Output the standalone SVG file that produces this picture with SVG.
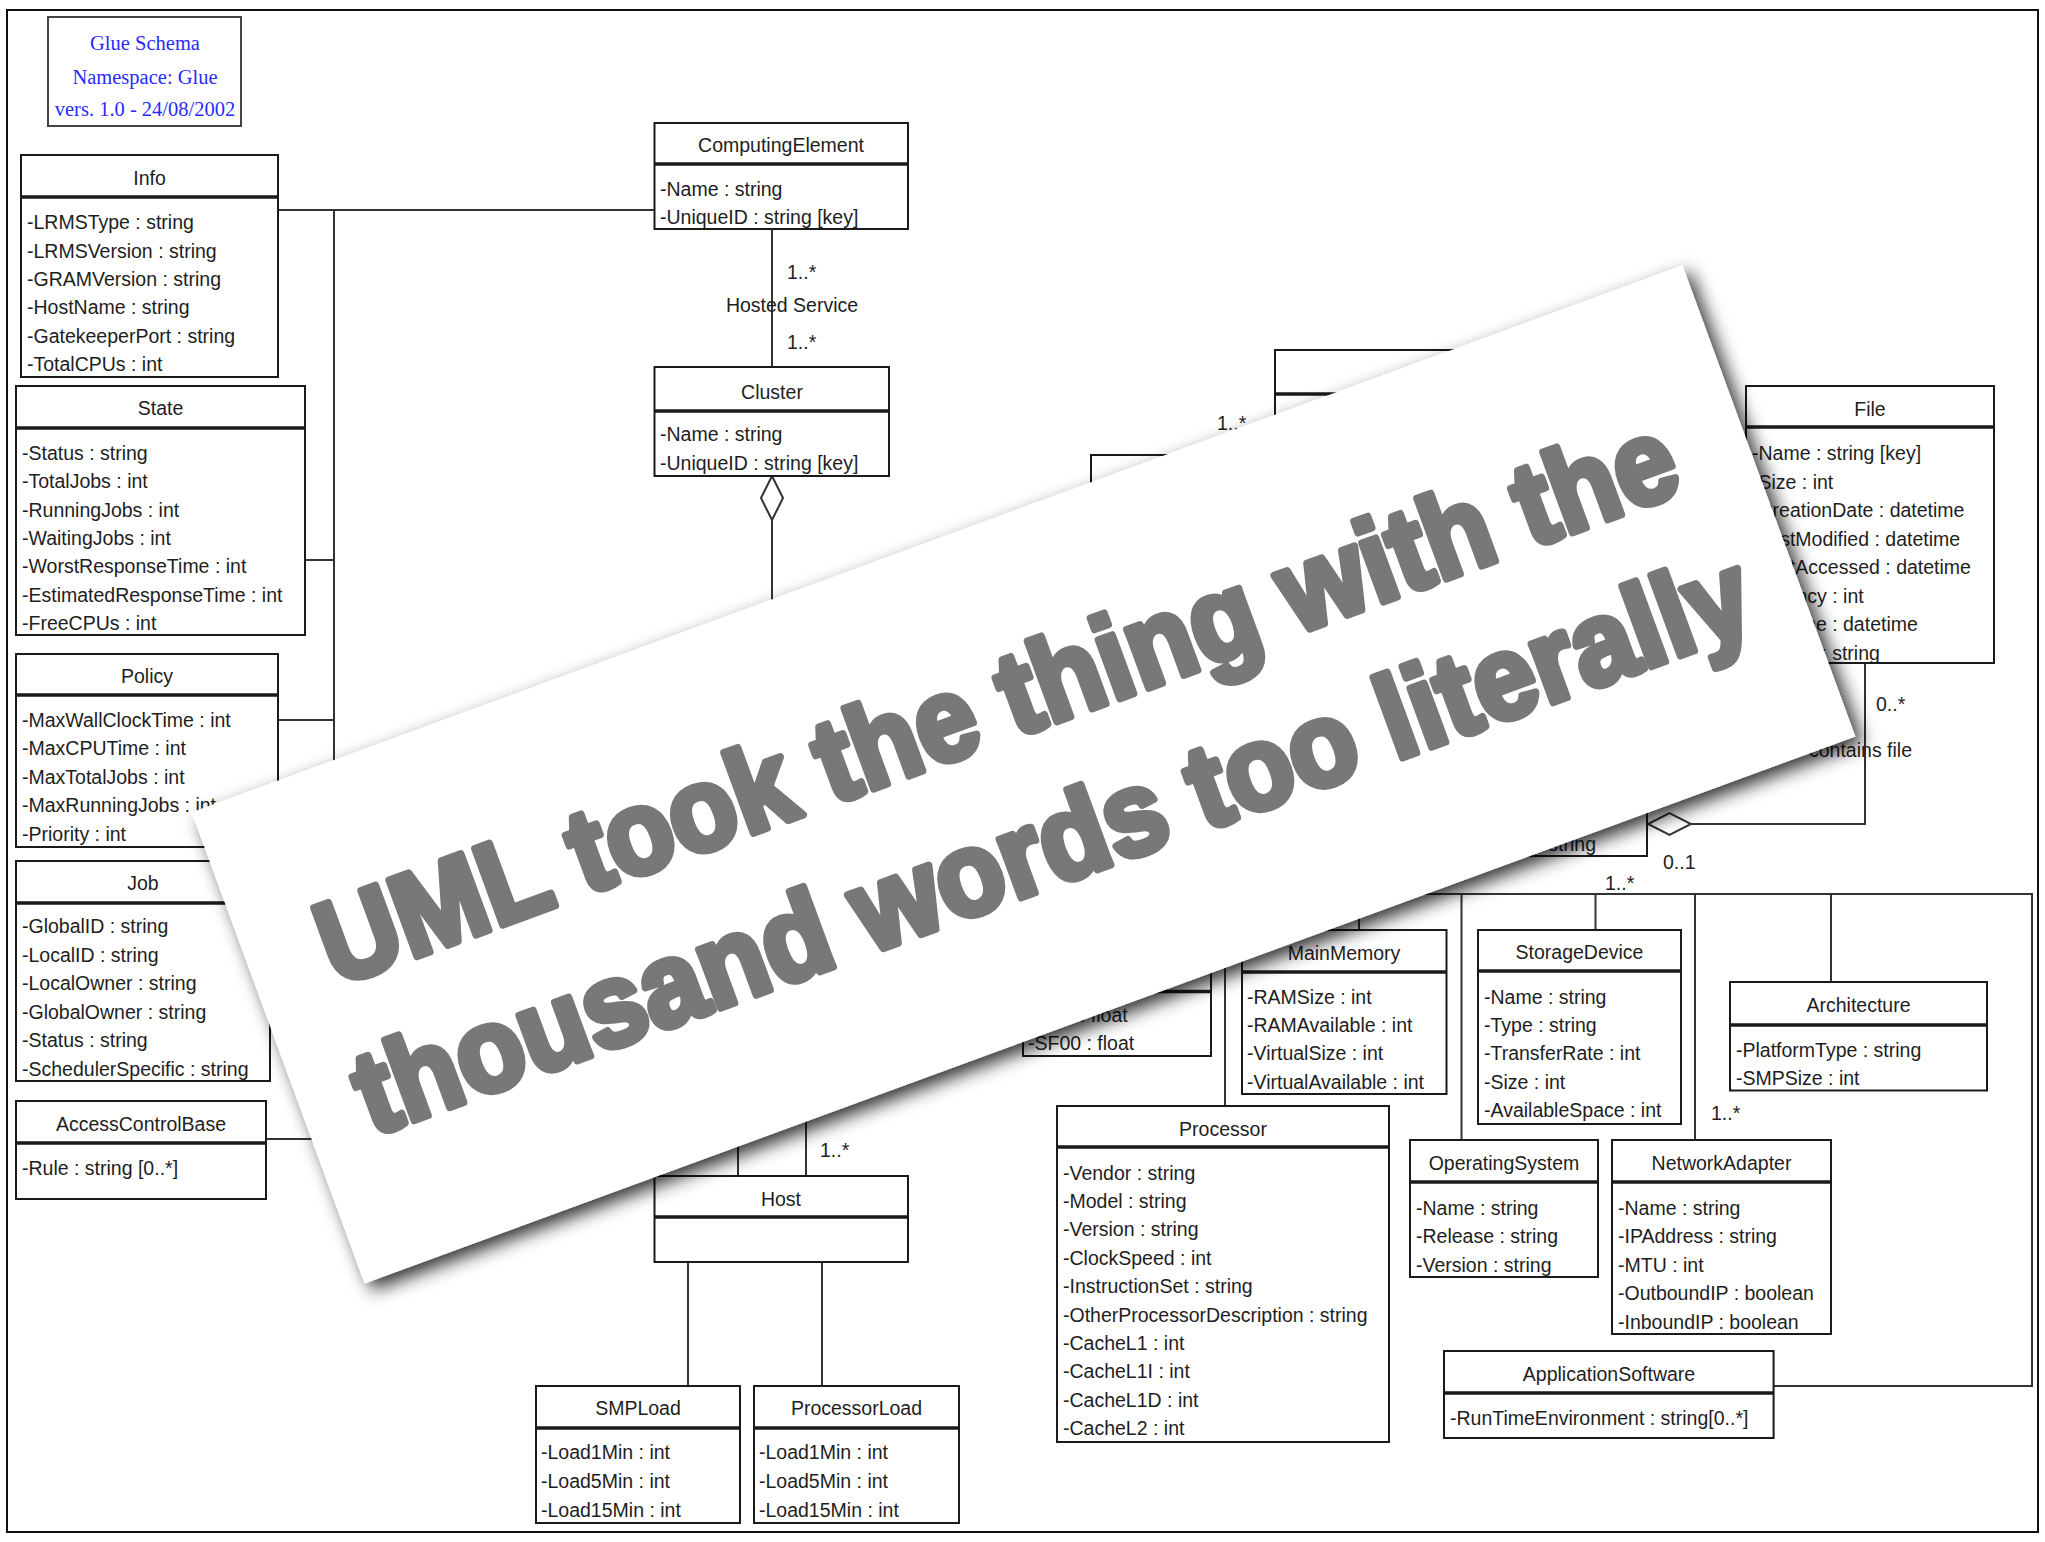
<svg xmlns="http://www.w3.org/2000/svg" width="2045" height="1542" viewBox="0 0 2045 1542">
<defs>
<style>
.box{fill:#fff;stroke:#1a1a1a;stroke-width:2}
.sep{stroke:#1a1a1a;stroke-width:3.5}
.t{font-family:"Liberation Sans",Arial,sans-serif;font-size:19.5px;fill:#1e1e1e}
.c{text-anchor:middle}
.e{text-anchor:end}
.conn{stroke:#333;stroke-width:2;fill:none}
.dia{fill:#fff;stroke:#333;stroke-width:2}
.blue{font-family:"Liberation Serif","Times New Roman",serif;font-size:20.5px;fill:#2a2aff;text-anchor:middle}
.big{font-family:"Liberation Sans",Arial,sans-serif;font-weight:bold;font-size:118px;fill:#787878;stroke:#787878;stroke-width:7.5;stroke-linejoin:round}
</style>
<filter id="shadow" x="-10%" y="-25%" width="120%" height="150%">
<feGaussianBlur in="SourceAlpha" stdDeviation="9"/>
<feOffset dx="5" dy="9" result="b"/>
<feFlood flood-color="#000" flood-opacity="0.8"/>
<feComposite in2="b" operator="in"/>
<feMerge><feMergeNode/><feMergeNode in="SourceGraphic"/></feMerge>
</filter>
</defs>
<rect x="0" y="0" width="2045" height="1542" fill="#fff"/>
<rect x="7" y="10" width="2031" height="1522" fill="#fff" stroke="#111" stroke-width="2"/>

<g id="connectors">
<path class="conn" d="M278 210H654.5M334 210V1139M304.5 560H334M278 720H334M266 1139H334"/>
<path class="conn" d="M772 229V367M772 520V640"/>
<path class="conn" d="M738 1100V1176M806 1080V1176M688 1262V1386M822 1262V1386"/>
<path class="conn" d="M1225 894H2032V1386H1773.6M1225 894V1106M1359 894V930M1461.5 894V1140M1595.5 894V930M1695 894V1140M1831 894V982"/>
<path class="conn" d="M1691 824H1865V663"/>
<polygon class="dia" points="772,476 783,498 772,520 761,498"/>
<polygon class="dia" points="1648,824 1669.5,813 1691,824 1669.5,835"/>
<text class="t" x="787" y="279">1..*</text>
<text class="t c" x="792" y="312">Hosted Service</text>
<text class="t" x="787" y="349">1..*</text>
<text class="t" x="1217" y="430">1..*</text>
<text class="t" x="1876" y="711">0..*</text>
<text class="t e" x="1912" y="757">contains file</text>
<text class="t" x="1663" y="869">0..1</text>
<text class="t" x="1605" y="890">1..*</text>
<text class="t" x="820" y="1157">1..*</text>
<text class="t" x="1711" y="1120">1..*</text>
</g>

<g id="title">
<rect x="48" y="17" width="193" height="109" fill="#fff" stroke="#444" stroke-width="2"/>
<text class="blue" x="145" y="50">Glue Schema</text>
<text class="blue" x="145" y="84">Namespace: Glue</text>
<text class="blue" x="145" y="116">vers. 1.0 - 24/08/2002</text>
</g>

<g id="info">
<rect class="box" x="21" y="155" width="257" height="222"/>
<line class="sep" x1="21" y1="197" x2="278" y2="197"/>
<text class="t c" x="149.5" y="185">Info</text>
<text class="t" x="27" y="229">-LRMSType : string</text>
<text class="t" x="27" y="257.5">-LRMSVersion : string</text>
<text class="t" x="27" y="286">-GRAMVersion : string</text>
<text class="t" x="27" y="314">-HostName : string</text>
<text class="t" x="27" y="342.5">-GatekeeperPort : string</text>
<text class="t" x="27" y="371">-TotalCPUs : int</text>
</g>

<g id="state">
<rect class="box" x="16" y="386" width="289" height="249"/>
<line class="sep" x1="16" y1="428" x2="305" y2="428"/>
<text class="t c" x="160.5" y="415">State</text>
<text class="t" x="22" y="460">-Status : string</text>
<text class="t" x="22" y="488.3">-TotalJobs : int</text>
<text class="t" x="22" y="516.6">-RunningJobs : int</text>
<text class="t" x="22" y="545">-WaitingJobs : int</text>
<text class="t" x="22" y="573.2">-WorstResponseTime : int</text>
<text class="t" x="22" y="601.5">-EstimatedResponseTime : int</text>
<text class="t" x="22" y="630">-FreeCPUs : int</text>
</g>

<g id="policy">
<rect class="box" x="16" y="654" width="262" height="193"/>
<line class="sep" x1="16" y1="695" x2="278" y2="695"/>
<text class="t c" x="147" y="683">Policy</text>
<text class="t" x="22" y="727">-MaxWallClockTime : int</text>
<text class="t" x="22" y="755.4">-MaxCPUTime : int</text>
<text class="t" x="22" y="783.8">-MaxTotalJobs : int</text>
<text class="t" x="22" y="812.2">-MaxRunningJobs : int</text>
<text class="t" x="22" y="840.6">-Priority : int</text>
</g>

<g id="job">
<rect class="box" x="16" y="861" width="254" height="220"/>
<line class="sep" x1="16" y1="903" x2="270" y2="903"/>
<text class="t c" x="143" y="890">Job</text>
<text class="t" x="22" y="933">-GlobalID : string</text>
<text class="t" x="22" y="961.6">-LocalID : string</text>
<text class="t" x="22" y="990.2">-LocalOwner : string</text>
<text class="t" x="22" y="1018.8">-GlobalOwner : string</text>
<text class="t" x="22" y="1047.4">-Status : string</text>
<text class="t" x="22" y="1076">-SchedulerSpecific : string</text>
</g>

<g id="accesscontrolbase">
<rect class="box" x="16" y="1101" width="250" height="98"/>
<line class="sep" x1="16" y1="1143" x2="266" y2="1143"/>
<text class="t c" x="141" y="1131">AccessControlBase</text>
<text class="t" x="22" y="1175">-Rule : string [0..*]</text>
</g>

<g id="computingelement">
<rect class="box" x="654.5" y="123" width="253.5" height="106"/>
<line class="sep" x1="654.5" y1="164" x2="908" y2="164"/>
<text class="t c" x="781" y="152">ComputingElement</text>
<text class="t" x="660" y="196">-Name : string</text>
<text class="t" x="660" y="224">-UniqueID : string [key]</text>
</g>

<g id="cluster">
<rect class="box" x="654.5" y="367" width="234.5" height="109"/>
<line class="sep" x1="654.5" y1="411" x2="889" y2="411"/>
<text class="t c" x="772" y="399">Cluster</text>
<text class="t" x="660" y="441">-Name : string</text>
<text class="t" x="660" y="470">-UniqueID : string [key]</text>
</g>

<g id="box-a">
<rect class="box" x="1275" y="350" width="250" height="200"/>
<line class="sep" x1="1275" y1="394" x2="1525" y2="394"/>
</g>
<g id="box-b">
<rect class="box" x="1091" y="455" width="220" height="160"/>
</g>
<g id="box-c">
<rect class="box" x="1450" y="700" width="197" height="156"/>
<text class="t e" x="1596" y="851">string</text>
</g>

<g id="file">
<rect class="box" x="1746" y="386" width="248" height="277"/>
<line class="sep" x1="1746" y1="427" x2="1994" y2="427"/>
<text class="t c" x="1870" y="416">File</text>
<text class="t" x="1752" y="460">-Name : string [key]</text>
<text class="t" x="1752" y="488.5">-Size : int</text>
<text class="t" x="1752" y="517">-CreationDate : datetime</text>
<text class="t" x="1752" y="545.5">-LastModified : datetime</text>
<text class="t" x="1752" y="574">-LastAccessed : datetime</text>
<text class="t" x="1752" y="602.5">-Latency : int</text>
<text class="t" x="1752" y="631">-Lifetime : datetime</text>
<text class="t" x="1752" y="659.5">-Owner : string</text>
</g>

<g id="benchmark">
<rect class="box" x="1023" y="950" width="188" height="106"/>
<line class="sep" x1="1023" y1="991.5" x2="1211" y2="991.5"/>
<text class="t" x="1028" y="1021.6">-SI00 : float</text>
<text class="t" x="1028" y="1050">-SF00 : float</text>
</g>

<g id="host">
<rect class="box" x="654.5" y="1176" width="253.5" height="86"/>
<line class="sep" x1="654.5" y1="1217" x2="908" y2="1217"/>
<text class="t c" x="781" y="1206">Host</text>
</g>

<g id="smpload">
<rect class="box" x="536" y="1386" width="204" height="137"/>
<line class="sep" x1="536" y1="1428" x2="740" y2="1428"/>
<text class="t c" x="638" y="1415">SMPLoad</text>
<text class="t" x="541" y="1459">-Load1Min : int</text>
<text class="t" x="541" y="1488">-Load5Min : int</text>
<text class="t" x="541" y="1517">-Load15Min : int</text>
</g>

<g id="processorload">
<rect class="box" x="754" y="1386" width="205" height="137"/>
<line class="sep" x1="754" y1="1428" x2="959" y2="1428"/>
<text class="t c" x="856.5" y="1415">ProcessorLoad</text>
<text class="t" x="759" y="1459">-Load1Min : int</text>
<text class="t" x="759" y="1488">-Load5Min : int</text>
<text class="t" x="759" y="1517">-Load15Min : int</text>
</g>

<g id="processor">
<rect class="box" x="1057" y="1106" width="332" height="336"/>
<line class="sep" x1="1057" y1="1147" x2="1389" y2="1147"/>
<text class="t c" x="1223" y="1136">Processor</text>
<text class="t" x="1063" y="1179.6">-Vendor : string</text>
<text class="t" x="1063" y="1208">-Model : string</text>
<text class="t" x="1063" y="1236.4">-Version : string</text>
<text class="t" x="1063" y="1264.8">-ClockSpeed : int</text>
<text class="t" x="1063" y="1293.2">-InstructionSet : string</text>
<text class="t" x="1063" y="1321.6">-OtherProcessorDescription : string</text>
<text class="t" x="1063" y="1350">-CacheL1 : int</text>
<text class="t" x="1063" y="1378.4">-CacheL1I : int</text>
<text class="t" x="1063" y="1406.8">-CacheL1D : int</text>
<text class="t" x="1063" y="1435.2">-CacheL2 : int</text>
</g>

<g id="mainmemory">
<rect class="box" x="1242" y="930" width="204.5" height="164"/>
<line class="sep" x1="1242" y1="972" x2="1446.5" y2="972"/>
<text class="t c" x="1344" y="960">MainMemory</text>
<text class="t" x="1247" y="1003.6">-RAMSize : int</text>
<text class="t" x="1247" y="1032">-RAMAvailable : int</text>
<text class="t" x="1247" y="1060.4">-VirtualSize : int</text>
<text class="t" x="1247" y="1088.8">-VirtualAvailable : int</text>
</g>

<g id="storagedevice">
<rect class="box" x="1478" y="930" width="203" height="194"/>
<line class="sep" x1="1478" y1="971" x2="1681" y2="971"/>
<text class="t c" x="1579.5" y="959">StorageDevice</text>
<text class="t" x="1484" y="1003.5">-Name : string</text>
<text class="t" x="1484" y="1032">-Type : string</text>
<text class="t" x="1484" y="1060.4">-TransferRate : int</text>
<text class="t" x="1484" y="1088.8">-Size : int</text>
<text class="t" x="1484" y="1117.2">-AvailableSpace : int</text>
</g>

<g id="architecture">
<rect class="box" x="1730" y="982" width="257" height="108.5"/>
<line class="sep" x1="1730" y1="1025" x2="1987" y2="1025"/>
<text class="t c" x="1858.5" y="1012">Architecture</text>
<text class="t" x="1736" y="1057">-PlatformType : string</text>
<text class="t" x="1736" y="1085">-SMPSize : int</text>
</g>

<g id="operatingsystem">
<rect class="box" x="1410" y="1140" width="188" height="137"/>
<line class="sep" x1="1410" y1="1182" x2="1598" y2="1182"/>
<text class="t c" x="1504" y="1170">OperatingSystem</text>
<text class="t" x="1416" y="1214.5">-Name : string</text>
<text class="t" x="1416" y="1243">-Release : string</text>
<text class="t" x="1416" y="1271.5">-Version : string</text>
</g>

<g id="networkadapter">
<rect class="box" x="1612" y="1140" width="219" height="194"/>
<line class="sep" x1="1612" y1="1182" x2="1831" y2="1182"/>
<text class="t c" x="1721.5" y="1170">NetworkAdapter</text>
<text class="t" x="1618" y="1214.5">-Name : string</text>
<text class="t" x="1618" y="1243">-IPAddress : string</text>
<text class="t" x="1618" y="1271.5">-MTU : int</text>
<text class="t" x="1618" y="1300">-OutboundIP : boolean</text>
<text class="t" x="1618" y="1328.5">-InboundIP : boolean</text>
</g>

<g id="applicationsoftware">
<rect class="box" x="1444" y="1351" width="329.6" height="87"/>
<line class="sep" x1="1444" y1="1393" x2="1773.6" y2="1393"/>
<text class="t c" x="1609" y="1381">ApplicationSoftware</text>
<text class="t" x="1450" y="1425">-RunTimeEnvironment : string[0..*]</text>
</g>

<g id="banner" transform="translate(1023.5,774.4) rotate(-20.15)">
<rect x="-794" y="-251" width="1588" height="502" fill="#fff" filter="url(#shadow)"/>
<text class="big" x="-719" y="-38" textLength="1438" lengthAdjust="spacingAndGlyphs">UML took the thing with the</text>
<text class="big" x="-736" y="115" textLength="1478" lengthAdjust="spacingAndGlyphs">thousand words too literally</text>
</g>
</svg>
